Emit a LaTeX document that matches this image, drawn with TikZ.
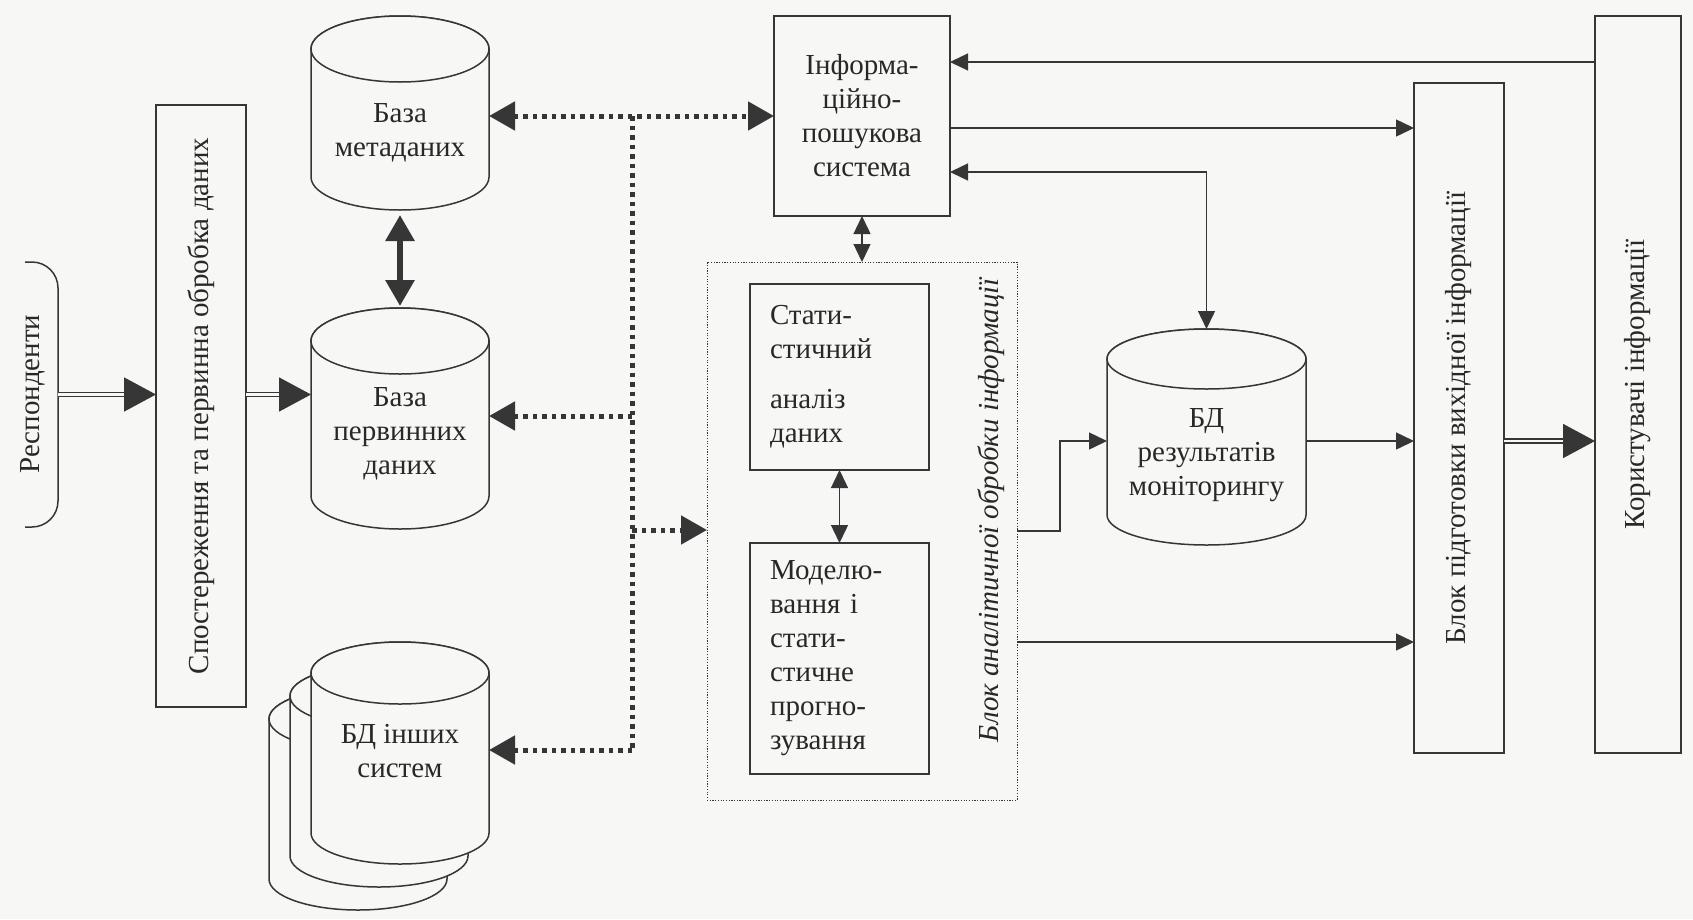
\documentclass[tikz,border=0pt]{standalone}
\usepackage{fontspec}
\setmainfont{Liberation Serif}
\usetikzlibrary{arrows.meta,calc}
\definecolor{ink}{HTML}{363636}
\definecolor{txt}{HTML}{282828}
\definecolor{paper}{HTML}{F7F8F5}
\newcommand\drawcyl[3]{%
  \filldraw[cylline] ($(#1.north west)+(0,#3)$) -- ($(#1.south west)-(0,#3)$)
    arc[start angle=180,end angle=0,x radius=#2,y radius=#3]
    -- ($(#1.north east)+(0,#3)$)
    arc[start angle=0,end angle=-180,x radius=#2,y radius=#3] -- cycle;
  \draw[cylline] ($(#1.north)+(0,#3)$) ellipse[x radius=#2,y radius=#3];
}
\begin{document}
\begin{tikzpicture}[x=1pt,y=-1pt,
  every node/.style={font=\fontsize{29}{34}\selectfont, text=txt, inner sep=0pt, outer sep=0pt},
  box/.style={draw=ink, line width=1.5pt},
  area/.style={},
  cylline/.style={draw=ink, line width=1.5pt, fill=paper},
  arr/.style={draw=ink, line width=1.4pt, -{Triangle[length=18pt,width=17pt]}},
  arrboth/.style={draw=ink, line width=1.4pt, {Triangle[length=18pt,width=17pt]}-{Triangle[length=18pt,width=17pt]}},
  bigarr/.style={draw=ink, double=paper, double distance=2.2pt, line width=1.6pt, -{Triangle[length=32pt,width=34pt]}},
  thickarr/.style={draw=ink, line width=6pt, {Triangle[length=26pt,width=28pt]}-{Triangle[length=26pt,width=28pt]}},
  dotline/.style={draw=ink, line width=5pt, dash pattern=on 4.5pt off 5pt},
  dotarr/.style={dotline, -{Triangle[length=26pt,width=28pt]}},
  dotboth/.style={dotline, {Triangle[length=26pt,width=28pt]}-{Triangle[length=26pt,width=28pt]}},
  dotbox/.style={draw=ink, line width=0.9pt, dash pattern=on 1.2pt off 1.5pt},
  rot/.style={rotate=90}
]
\fill[paper] (0,0) rectangle (1693,919);
\useasboundingbox (0,0) rectangle (1693,919);

% Respondents
\node[area, minimum width=33pt, minimum height=265pt] (resp) at (41.5,394.5) {};
\draw[ink, line width=1.5pt, rounded corners=26pt] (resp.north west) -- (resp.north east) -- (resp.south east) -- (resp.south west);
\node[rot] (respT) at (33,394) {Респонденти};

% Observation box
\node[box, minimum width=90pt, minimum height=602pt] (obs) at (201,406) {};
\node[rot] (obsT) at (obs.center) {Спостереження та первинна обробка даних};

% Databases
\node[area, minimum width=178pt, minimum height=194pt] (meta) at (400,113) {};
\drawcyl{meta}{89}{33}
\node[align=center] (metaT) at (400,133) {База\\метаданих};

\node[area, minimum width=178pt, minimum height=221pt] (prim) at (400,418.5) {};
\drawcyl{prim}{89}{33}
\node[align=center] (primT) at (400,434) {База\\первинних\\даних};

\node[area, minimum width=178pt, minimum height=222pt] (other3) at (358,799) {};
\drawcyl{other3}{89}{31}
\node[area, minimum width=178pt, minimum height=222pt] (other2) at (379,776) {};
\drawcyl{other2}{89}{31}
\node[area, minimum width=178pt, minimum height=222pt] (other) at (400,753) {};
\drawcyl{other}{89}{31}
\node[align=center] (otherT) at (400,751) {БД інших\\систем};

% Information retrieval system
\node[box, minimum width=176pt, minimum height=200pt, align=center] (info) at (862,116) {Інформа-\\ційно-\\пошукова\\система};

% Analytical block
\node[dotbox, minimum width=310pt, minimum height=538pt] (anal) at (862,531) {};
\node[rot, font=\fontsize{29}{34}\selectfont\itshape] (analT) at (991,510) {Блок аналітичної обробки інформації};
\node[box, minimum width=179pt, minimum height=186pt, text width=139pt, align=left, inner xsep=20pt] (stat) at (839.5,377) {Стати-\\стичний\\[16pt]аналіз\\даних};
\node[box, minimum width=179pt, minimum height=231pt, text width=139pt, align=left, inner xsep=20pt] (model) at (839.5,658.5) {Моделю-\\вання і\\стати-\\стичне\\прогно-\\зування};

% Results DB
\node[area, minimum width=199pt, minimum height=216pt] (res) at (1206.5,437) {};
\drawcyl{res}{99.5}{30}
\node[align=center] (resT) at (1206.5,455) {БД\\результатів\\моніторингу};

% Output preparation and users
\node[box, minimum width=90pt, minimum height=670pt] (prep) at (1459,418) {};
\node[rot] (prepT) at (prep.center) {Блок підготовки вихідної інформації};
\node[box, minimum width=86pt, minimum height=737pt] (users) at (1638,384.5) {};
\node[rot] (usersT) at (users.center) {Користувачі інформації};

% Connectors: left part
\draw[bigarr] (resp.east) -- (resp.east -| obs.west);
\draw[bigarr] (obs.east |- resp.east) -- (prim.west |- resp.east);
\draw[thickarr, shorten <=5pt, shorten >=2pt] (meta.south) -- (prim.north);

% Dotted distribution
\coordinate (jtop) at (632,116);
\coordinate (jprim) at (632,416);
\coordinate (jan) at (632,530);
\coordinate (jbot) at (632,750);
\draw[dotline] (jtop) -- (jbot);
\draw[dotboth] (jtop -| meta.east) -- (jtop -| info.west);
\draw[dotarr] (jprim) -- (jprim -| prim.east);
\draw[dotarr] (jan) -- (jan -| anal.west);
\draw[dotarr] (jbot) -- (jbot -| other.east);

% Inner arrows
\draw[arrboth] (info.south) -- (anal.north);
\draw[arrboth] (stat.south) -- (model.north);

% Right part
\coordinate (i1) at ($(info.north east)+(0,46)$);
\coordinate (i2) at ($(info.north east)+(0,112)$);
\coordinate (i3) at ($(info.north east)+(0,156)$);
\draw[arr] (i1 -| users.west) -- (i1);
\draw[arr] (i2) -- (i2 -| prep.west);
\draw[arrboth] (i3) -| (res.north);
\coordinate (r1) at ($(res.west)+(0,4)$);
\coordinate (r2) at ($(res.east)+(0,4)$);
\draw[arr] (anal.east) -- ++(43,0) |- (r1);
\draw[arr] (r2) -- (r2 -| prep.west);
\coordinate (a2) at ($(anal.south east)+(0,-158)$);
\draw[arr] (a2) -- (a2 -| prep.west);
\draw[bigarr] (r2 -| prep.east) -- (r2 -| users.west);
\end{tikzpicture}
\end{document}
